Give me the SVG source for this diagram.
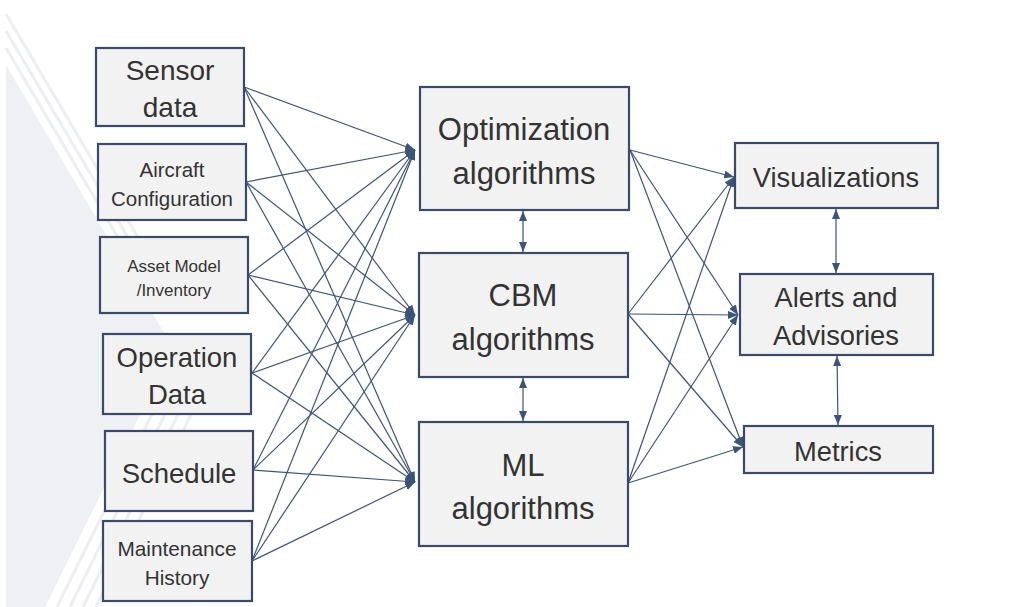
<svg xmlns="http://www.w3.org/2000/svg" width="1011" height="607" viewBox="0 0 1011 607">
<style>
.box{fill:#f2f2f2;stroke:#3a4a6b;stroke-width:2.2}
.t{font-family:"Liberation Sans",Arial,sans-serif;fill:#333333;text-anchor:middle}
.c{stroke:#3d5479;stroke-width:1.2;fill:none;marker-end:url(#ah)}
.d{stroke:#3d5479;stroke-width:1.2;fill:none;marker-end:url(#ah);marker-start:url(#ah)}
.s{stroke:#eceef1;stroke-width:3;fill:none}
</style>
<defs>
<marker id="ah" viewBox="0 0 10 8" refX="10" refY="4" markerWidth="10" markerHeight="8" markerUnits="userSpaceOnUse" orient="auto-start-reverse">
<path d="M0,0 L10,4 L0,8 z" fill="#3d5479"/>
</marker>
</defs>
<rect width="1011" height="607" fill="#ffffff"/>
<g id="background">
<polygon points="6,65 173,348 45,607 6,607" fill="#eef0f3"/>
<line class="s" x1="6" y1="48" x2="155" y2="300"/>
<line class="s" x1="6" y1="31" x2="165" y2="300"/>
<line class="s" x1="6" y1="14" x2="175" y2="300"/>
<line class="s" x1="57" y1="607" x2="169" y2="380"/>
<line class="s" x1="70" y1="607" x2="182" y2="380"/>
<line class="s" x1="83" y1="607" x2="195" y2="380"/>
<line class="s" x1="96" y1="607" x2="208" y2="380"/>
</g>
<g id="connectors">
<line class="c" x1="244" y1="87" x2="415" y2="150"/>
<line class="c" x1="244" y1="87" x2="415" y2="315"/>
<line class="c" x1="244" y1="87" x2="415" y2="482"/>
<line class="c" x1="246" y1="182" x2="415" y2="150"/>
<line class="c" x1="246" y1="182" x2="415" y2="315"/>
<line class="c" x1="246" y1="182" x2="415" y2="482"/>
<line class="c" x1="248" y1="275" x2="415" y2="150"/>
<line class="c" x1="248" y1="275" x2="415" y2="315"/>
<line class="c" x1="248" y1="275" x2="415" y2="482"/>
<line class="c" x1="252" y1="373" x2="415" y2="150"/>
<line class="c" x1="252" y1="373" x2="415" y2="315"/>
<line class="c" x1="252" y1="373" x2="415" y2="482"/>
<line class="c" x1="253" y1="470" x2="415" y2="150"/>
<line class="c" x1="253" y1="470" x2="415" y2="315"/>
<line class="c" x1="253" y1="470" x2="415" y2="482"/>
<line class="c" x1="252" y1="561" x2="415" y2="150"/>
<line class="c" x1="252" y1="561" x2="415" y2="315"/>
<line class="c" x1="252" y1="561" x2="415" y2="482"/>
<line class="c" x1="630" y1="150" x2="734" y2="177"/>
<line class="c" x1="630" y1="150" x2="738" y2="315"/>
<line class="c" x1="630" y1="150" x2="743" y2="447"/>
<line class="c" x1="628" y1="314" x2="734" y2="177"/>
<line class="c" x1="628" y1="314" x2="738" y2="315"/>
<line class="c" x1="628" y1="314" x2="743" y2="447"/>
<line class="c" x1="628" y1="483" x2="734" y2="177"/>
<line class="c" x1="628" y1="483" x2="738" y2="315"/>
<line class="c" x1="628" y1="483" x2="743" y2="447"/>
<line class="d" x1="523" y1="211" x2="523" y2="252"/>
<line class="d" x1="523" y1="378" x2="523" y2="421"/>
<line class="d" x1="836" y1="209" x2="836" y2="273"/>
<line class="d" x1="837" y1="356" x2="838" y2="425"/>
</g>
<g id="sensor-data">
<rect class="box" x="96" y="48" width="148" height="78"/>
<text class="t" x="170" y="80" font-size="28">Sensor</text>
<text class="t" x="170" y="117" font-size="28">data</text>
</g>
<g id="aircraft-configuration">
<rect class="box" x="98" y="144" width="148" height="76"/>
<text class="t" x="172" y="177" font-size="20.5">Aircraft</text>
<text class="t" x="172" y="206" font-size="20.5">Configuration</text>
</g>
<g id="asset-model">
<rect class="box" x="100" y="237" width="148" height="76"/>
<text class="t" x="174" y="272" font-size="17">Asset Model</text>
<text class="t" x="174" y="296" font-size="17">/Inventory</text>
</g>
<g id="operation-data">
<rect class="box" x="103" y="334" width="148" height="80"/>
<text class="t" x="177" y="367" font-size="27.5">Operation</text>
<text class="t" x="177" y="404" font-size="27.5">Data</text>
</g>
<g id="schedule">
<rect class="box" x="105" y="431" width="148" height="80"/>
<text class="t" x="179" y="483" font-size="27.5">Schedule</text>
</g>
<g id="maintenance-history">
<rect class="box" x="103" y="521" width="149" height="80"/>
<text class="t" x="177" y="556" font-size="20.8">Maintenance</text>
<text class="t" x="177" y="585" font-size="20.8">History</text>
</g>
<g id="optimization-algorithms">
<rect class="box" x="420" y="87" width="209" height="123"/>
<text class="t" x="524" y="140" font-size="31">Optimization</text>
<text class="t" x="524" y="184" font-size="31">algorithms</text>
</g>
<g id="cbm-algorithms">
<rect class="box" x="419" y="253" width="209" height="124"/>
<text class="t" x="523" y="306" font-size="31">CBM</text>
<text class="t" x="523" y="350" font-size="31">algorithms</text>
</g>
<g id="ml-algorithms">
<rect class="box" x="419" y="422" width="209" height="124"/>
<text class="t" x="523" y="476" font-size="31">ML</text>
<text class="t" x="523" y="519" font-size="31">algorithms</text>
</g>
<g id="visualizations">
<rect class="box" x="735" y="143" width="203" height="65"/>
<text class="t" x="836" y="187" font-size="27.3">Visualizations</text>
</g>
<g id="alerts-advisories">
<rect class="box" x="740" y="274" width="193" height="81"/>
<text class="t" x="836" y="307" font-size="27.3">Alerts and</text>
<text class="t" x="836" y="345" font-size="27.3">Advisories</text>
</g>
<g id="metrics">
<rect class="box" x="744" y="426" width="189" height="47"/>
<text class="t" x="838" y="461" font-size="27.3">Metrics</text>
</g>
</svg>
